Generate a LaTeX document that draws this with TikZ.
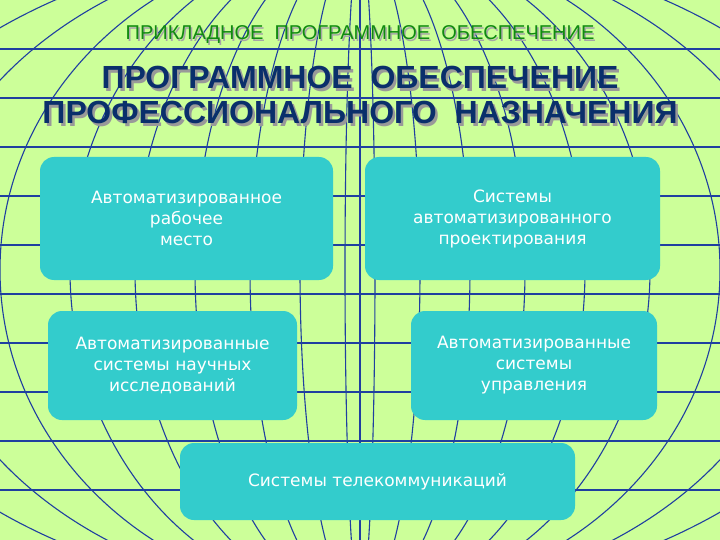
\documentclass[tikz,border=0pt]{standalone}
\usepackage{fontspec}
\setmainfont{Liberation Sans}
\newfontfamily\boxfont{DejaVu Sans}
\definecolor{bg}{HTML}{CCFF99}
\definecolor{grid}{HTML}{1F3FA0}
\definecolor{teal}{HTML}{33CCCC}
\definecolor{navy}{HTML}{0A2F6B}
\definecolor{tgreen}{HTML}{108A10}
\tikzset{
 box/.style={fill=teal,rounded corners=14pt,text=white,align=center,font=\boxfont\fontsize{17}{21}\selectfont,inner sep=0pt},
 gl/.style={draw=grid,line width=1.1pt},
}
\begin{document}
\begin{tikzpicture}[x=1pt,y=-1pt]
\useasboundingbox (0,0) rectangle (720,540);
\fill[bg] (0,0) rectangle (720,540);
\begin{scope}
\clip (0,0) rectangle (720,540);
\foreach \yy in {49,98,147,196,245,294,343,392,441,490} \draw[gl] (0,\yy) -- (720,\yy);
\foreach \a in {15,60,110,165,225,290,360,440,530} {
  \draw[gl] (360,270) ellipse [x radius=\a, y radius=330];
}
\draw[gl] (360,-100) -- (360,640);
\end{scope}
% titles
\node[text=gray!70,font=\fontsize{20}{22}\selectfont] at (361.5,36.5) {ПРИКЛАДНОЕ\ \ ПРОГРАММНОЕ\ \ ОБЕСПЕЧЕНИЕ};
\node (t0) [text=tgreen,font=\fontsize{20}{22}\selectfont] at (360,35) {ПРИКЛАДНОЕ\ \ ПРОГРАММНОЕ\ \ ОБЕСПЕЧЕНИЕ};
\node[text=gray!80,font=\bfseries\fontsize{32}{35}\selectfont,align=center] at (362.5,97.5) {ПРОГРАММНОЕ\ \ ОБЕСПЕЧЕНИЕ\\ПРОФЕССИОНАЛЬНОГО\ \ НАЗНАЧЕНИЯ};
\node (t1) [text=navy,font=\bfseries\fontsize{32}{35}\selectfont,align=center] at (360,95) {ПРОГРАММНОЕ\ \ ОБЕСПЕЧЕНИЕ\\ПРОФЕССИОНАЛЬНОГО\ \ НАЗНАЧЕНИЯ};
% boxes
\node (b1) [box,minimum width=293pt,minimum height=123pt] at (186.5,218.5) {Автоматизированное\\рабочее\\место};
\node (b2) [box,minimum width=295pt,minimum height=123pt] at (512.5,218.5) {Системы\\автоматизированного\\проектирования};
\node (b3) [box,minimum width=249pt,minimum height=109pt] at (172.5,365.5) {Автоматизированные\\системы научных\\исследований};
\node (b4) [box,minimum width=246pt,minimum height=109pt] at (534,365.5) {Автоматизированные\\системы\\управления};
\node (b5) [box,minimum width=395pt,minimum height=77pt] at (377.5,481.5) {Системы телекоммуникаций};
\end{tikzpicture}
\end{document}
